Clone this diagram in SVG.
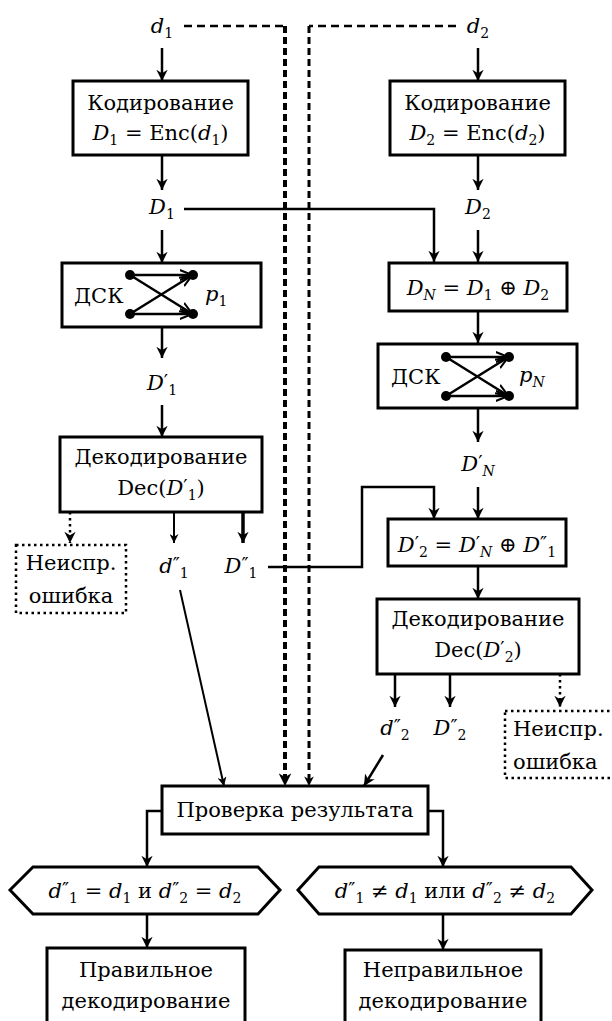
<svg xmlns="http://www.w3.org/2000/svg" width="612" height="1021" viewBox="0 0 612 1021">
<defs>
<marker id="ah" viewBox="0 0 10 10" refX="10" refY="5" markerWidth="4.5" markerHeight="4.5" orient="auto" markerUnits="strokeWidth">
<path d="M0,0 L10,5 L0,10 L3,5 z" fill="#000"/>
</marker>
<marker id="ahs" viewBox="0 0 10 10" refX="10" refY="5" markerWidth="3.2" markerHeight="3.2" orient="auto" markerUnits="strokeWidth">
<path d="M0,0 L10,5 L0,10 L3,5 z" fill="#000"/>
</marker>
<marker id="ahc" viewBox="0 0 10 10" refX="9" refY="5" markerWidth="5" markerHeight="5" orient="auto" markerUnits="strokeWidth">
<path d="M0,1 L10,5 L0,9" fill="none" stroke="#000" stroke-width="1.6"/>
</marker>
</defs>
<style>
text{font-family:"DejaVu Serif","Liberation Serif",serif;font-size:21px;fill:#000}
.i{font-style:italic}
.sub{font-size:14px}
.pr{font-size:19px}
.box{fill:#fff;stroke:#000;stroke-width:3}
.dot{fill:#fff;stroke:#000;stroke-width:2.5;stroke-dasharray:2.5,3.5}
.ln{fill:none;stroke:#000;stroke-width:2.5}
.thin{fill:none;stroke:#000;stroke-width:2}
.thick{fill:none;stroke:#000;stroke-width:3.5}
.dl{fill:none;stroke:#000;stroke-width:2.5;stroke-dasharray:2.5,3.5}
.dsh{fill:none;stroke:#000;stroke-width:2.5;stroke-dasharray:8,5}
.ch{fill:none;stroke:#000;stroke-width:2.5}
.nd{fill:#000}
</style>

<g id="connectors">
<path class="dsh" d="M184,26 H285"/>
<path class="dsh" d="M285,26 V786" style="stroke-width:4;stroke-dasharray:7,4" marker-end="url(#ahs)"/>
<path class="dsh" d="M456,26 H309"/>
<path class="dsh" d="M309,26 V786" style="stroke-width:3;stroke-dasharray:7,4" marker-end="url(#ahs)"/>
<path class="ln" d="M162,48 V81" marker-end="url(#ah)"/>
<path class="ln" d="M162,155 V190" marker-end="url(#ah)"/>
<path class="ln" d="M162,230 V263" marker-end="url(#ah)"/>
<path class="ln" d="M162,327 V358" marker-end="url(#ah)"/>
<path class="ln" d="M162,405 V437" marker-end="url(#ah)"/>
<path class="dl" d="M70,512 V543" marker-end="url(#ah)"/>
<path class="thin" d="M174,512 V543" marker-end="url(#ah)"/>
<path class="thick" d="M243,512 V543" marker-end="url(#ahs)"/>
<path class="ln" d="M184,209 H434 V262" marker-end="url(#ah)"/>
<path class="ln" d="M478,48 V81" marker-end="url(#ah)"/>
<path class="ln" d="M478,155 V190" marker-end="url(#ah)"/>
<path class="ln" d="M478,230 V262" marker-end="url(#ah)"/>
<path class="ln" d="M478,311 V343" marker-end="url(#ah)"/>
<path class="ln" d="M478,408 V442" marker-end="url(#ah)"/>
<path class="ln" d="M478,487 V519" marker-end="url(#ah)"/>
<path class="ln" d="M478,566 V599" marker-end="url(#ah)"/>
<path class="ln" d="M395,674 V707" marker-end="url(#ah)"/>
<path class="ln" d="M450,674 V707" marker-end="url(#ah)"/>
<path class="dl" d="M560,674 V707" marker-end="url(#ah)"/>
<path class="ln" d="M268,567 H362 V487 H434 V519" marker-end="url(#ah)"/>
<path class="thin" d="M180,590 L224,786" marker-end="url(#ah)"/>
<path class="ln" d="M383,755 L364,786" marker-end="url(#ah)"/>
<path class="ln" d="M162,811 H147 V867" marker-end="url(#ah)"/>
<path class="ln" d="M428,811 H443 V867" marker-end="url(#ah)"/>
<path class="ln" d="M147,914 V948" marker-end="url(#ah)"/>
<path class="ln" d="M443,914 V950" marker-end="url(#ah)"/>
</g>

<g id="d1"><text x="162" y="33" text-anchor="middle"><tspan class="i">d</tspan><tspan class="sub" dy="5">1</tspan></text></g>
<g id="d2"><text x="478" y="33" text-anchor="middle"><tspan class="i">d</tspan><tspan class="sub" dy="5">2</tspan></text></g>

<g id="enc1">
<rect class="box" x="73" y="81" width="175" height="74"/>
<text x="160.5" y="110" text-anchor="middle">Кодирование</text>
<text x="160.5" y="140" text-anchor="middle"><tspan class="i">D</tspan><tspan class="sub" dy="5">1</tspan><tspan dy="-5"> = Enc(</tspan><tspan class="i">d</tspan><tspan class="sub" dy="5">1</tspan><tspan dy="-5">)</tspan></text>
</g>
<g id="enc2">
<rect class="box" x="390" y="81" width="175" height="74"/>
<text x="477.5" y="110" text-anchor="middle">Кодирование</text>
<text x="477.5" y="140" text-anchor="middle"><tspan class="i">D</tspan><tspan class="sub" dy="5">2</tspan><tspan dy="-5"> = Enc(</tspan><tspan class="i">d</tspan><tspan class="sub" dy="5">2</tspan><tspan dy="-5">)</tspan></text>
</g>

<g id="D1"><text x="162" y="214" text-anchor="middle"><tspan class="i">D</tspan><tspan class="sub" dy="5">1</tspan></text></g>
<g id="D2"><text x="478" y="214" text-anchor="middle"><tspan class="i">D</tspan><tspan class="sub" dy="5">2</tspan></text></g>

<g id="bsc1">
<rect class="box" x="62" y="263" width="199" height="64"/>
<text x="74" y="303">ДСК</text>
<path class="ch" d="M130,275 H191" marker-end="url(#ahc)"/>
<path class="ch" d="M130,314 H191" marker-end="url(#ahc)"/>
<path class="ch" d="M130,275 L191,313" marker-end="url(#ahc)"/>
<path class="ch" d="M130,314 L191,276" marker-end="url(#ahc)"/>
<circle class="nd" cx="130" cy="275" r="5"/>
<circle class="nd" cx="193" cy="275" r="5"/>
<circle class="nd" cx="130" cy="314" r="5"/>
<circle class="nd" cx="193" cy="314" r="5"/>
<text x="205" y="301"><tspan class="i">p</tspan><tspan class="sub" dy="5">1</tspan></text>
</g>

<g id="D1p"><text x="162" y="390" text-anchor="middle"><tspan class="i">D</tspan><tspan class="pr" dy="-2">′</tspan><tspan class="sub" dy="7">1</tspan></text></g>

<g id="dec1">
<rect class="box" x="60" y="437" width="202" height="75"/>
<text x="161" y="464" text-anchor="middle">Декодирование</text>
<text x="161" y="495" text-anchor="middle">Dec(<tspan class="i">D</tspan><tspan class="pr" dy="-2">′</tspan><tspan class="sub" dy="7">1</tspan><tspan dy="-5">)</tspan></text>
</g>

<g id="err1">
<rect class="dot" x="16" y="545" width="110" height="68"/>
<text x="71" y="570" text-anchor="middle">Неиспр.</text>
<text x="71" y="603" text-anchor="middle">ошибка</text>
</g>

<g id="d1pp"><text x="174" y="573" text-anchor="middle"><tspan class="i">d</tspan><tspan class="pr" dy="-2">″</tspan><tspan class="sub" dy="7">1</tspan></text></g>
<g id="D1pp"><text x="241" y="573" text-anchor="middle"><tspan class="i">D</tspan><tspan class="pr" dy="-2">″</tspan><tspan class="sub" dy="7">1</tspan></text></g>

<g id="xor1">
<rect class="box" x="389" y="263" width="178" height="48"/>
<text x="478" y="295" text-anchor="middle"><tspan class="i">D</tspan><tspan class="sub i" dy="5">N</tspan><tspan dy="-5"> = </tspan><tspan class="i">D</tspan><tspan class="sub" dy="5">1</tspan><tspan dy="-5"> ⊕ </tspan><tspan class="i">D</tspan><tspan class="sub" dy="5">2</tspan></text>
</g>

<g id="bsc2">
<rect class="box" x="378" y="344" width="199" height="64"/>
<text x="391" y="384">ДСК</text>
<path class="ch" d="M446,357 H507" marker-end="url(#ahc)"/>
<path class="ch" d="M446,396 H507" marker-end="url(#ahc)"/>
<path class="ch" d="M446,357 L507,395" marker-end="url(#ahc)"/>
<path class="ch" d="M446,396 L507,358" marker-end="url(#ahc)"/>
<circle class="nd" cx="446" cy="357" r="5"/>
<circle class="nd" cx="509" cy="357" r="5"/>
<circle class="nd" cx="446" cy="396" r="5"/>
<circle class="nd" cx="509" cy="396" r="5"/>
<text x="519" y="382"><tspan class="i">p</tspan><tspan class="sub i" dy="5">N</tspan></text>
</g>

<g id="DNp"><text x="478" y="471" text-anchor="middle"><tspan class="i">D</tspan><tspan class="pr" dy="-2">′</tspan><tspan class="sub i" dy="7">N</tspan></text></g>

<g id="xor2">
<rect class="box" x="388" y="519" width="178" height="47"/>
<text x="477" y="552" text-anchor="middle"><tspan class="i">D</tspan><tspan class="pr" dy="-2">′</tspan><tspan class="sub" dy="7">2</tspan><tspan dy="-5"> = </tspan><tspan class="i">D</tspan><tspan class="pr" dy="-2">′</tspan><tspan class="sub i" dy="7">N</tspan><tspan dy="-5"> ⊕ </tspan><tspan class="i">D</tspan><tspan class="pr" dy="-2">″</tspan><tspan class="sub" dy="7">1</tspan></text>
</g>

<g id="dec2">
<rect class="box" x="377" y="599" width="202" height="75"/>
<text x="478" y="626" text-anchor="middle">Декодирование</text>
<text x="478" y="657" text-anchor="middle">Dec(<tspan class="i">D</tspan><tspan class="pr" dy="-2">′</tspan><tspan class="sub" dy="7">2</tspan><tspan dy="-5">)</tspan></text>
</g>

<g id="d2pp"><text x="395" y="735" text-anchor="middle"><tspan class="i">d</tspan><tspan class="pr" dy="-2">″</tspan><tspan class="sub" dy="7">2</tspan></text></g>
<g id="D2pp"><text x="450" y="735" text-anchor="middle"><tspan class="i">D</tspan><tspan class="pr" dy="-2">″</tspan><tspan class="sub" dy="7">2</tspan></text></g>

<g id="err2">
<rect class="dot" x="505" y="711" width="115" height="67"/>
<text x="513" y="736">Неиспр.</text>
<text x="513" y="769">ошибка</text>
</g>

<g id="check">
<rect class="box" x="162" y="786" width="266" height="48"/>
<text x="295" y="817" text-anchor="middle">Проверка результата</text>
</g>

<g id="cond1">
<path class="box" d="M10,890 L33,867 H258 L280,890 L258,914 H33 Z"/>
<text x="145" y="898" text-anchor="middle"><tspan class="i">d</tspan><tspan class="pr" dy="-2">″</tspan><tspan class="sub" dy="7">1</tspan><tspan dy="-5"> = </tspan><tspan class="i">d</tspan><tspan class="sub" dy="5">1</tspan><tspan dy="-5"> и </tspan><tspan class="i">d</tspan><tspan class="pr" dy="-2">″</tspan><tspan class="sub" dy="7">2</tspan><tspan dy="-5"> = </tspan><tspan class="i">d</tspan><tspan class="sub" dy="5">2</tspan></text>
</g>

<g id="cond2">
<path class="box" d="M298,890 L319,867 H571 L592,890 L571,914 H319 Z"/>
<text x="445" y="898" text-anchor="middle"><tspan class="i">d</tspan><tspan class="pr" dy="-2">″</tspan><tspan class="sub" dy="7">1</tspan><tspan dy="-5"> ≠ </tspan><tspan class="i">d</tspan><tspan class="sub" dy="5">1</tspan><tspan dy="-5"> или </tspan><tspan class="i">d</tspan><tspan class="pr" dy="-2">″</tspan><tspan class="sub" dy="7">2</tspan><tspan dy="-5"> ≠ </tspan><tspan class="i">d</tspan><tspan class="sub" dy="5">2</tspan></text>
</g>

<g id="ok">
<rect class="box" x="47" y="948" width="198" height="90"/>
<text x="146" y="977" text-anchor="middle">Правильное</text>
<text x="146" y="1008" text-anchor="middle">декодирование</text>
</g>

<g id="fail">
<rect class="box" x="345" y="950" width="196" height="90"/>
<text x="443" y="977" text-anchor="middle">Неправильное</text>
<text x="443" y="1008" text-anchor="middle">декодирование</text>
</g>
</svg>
